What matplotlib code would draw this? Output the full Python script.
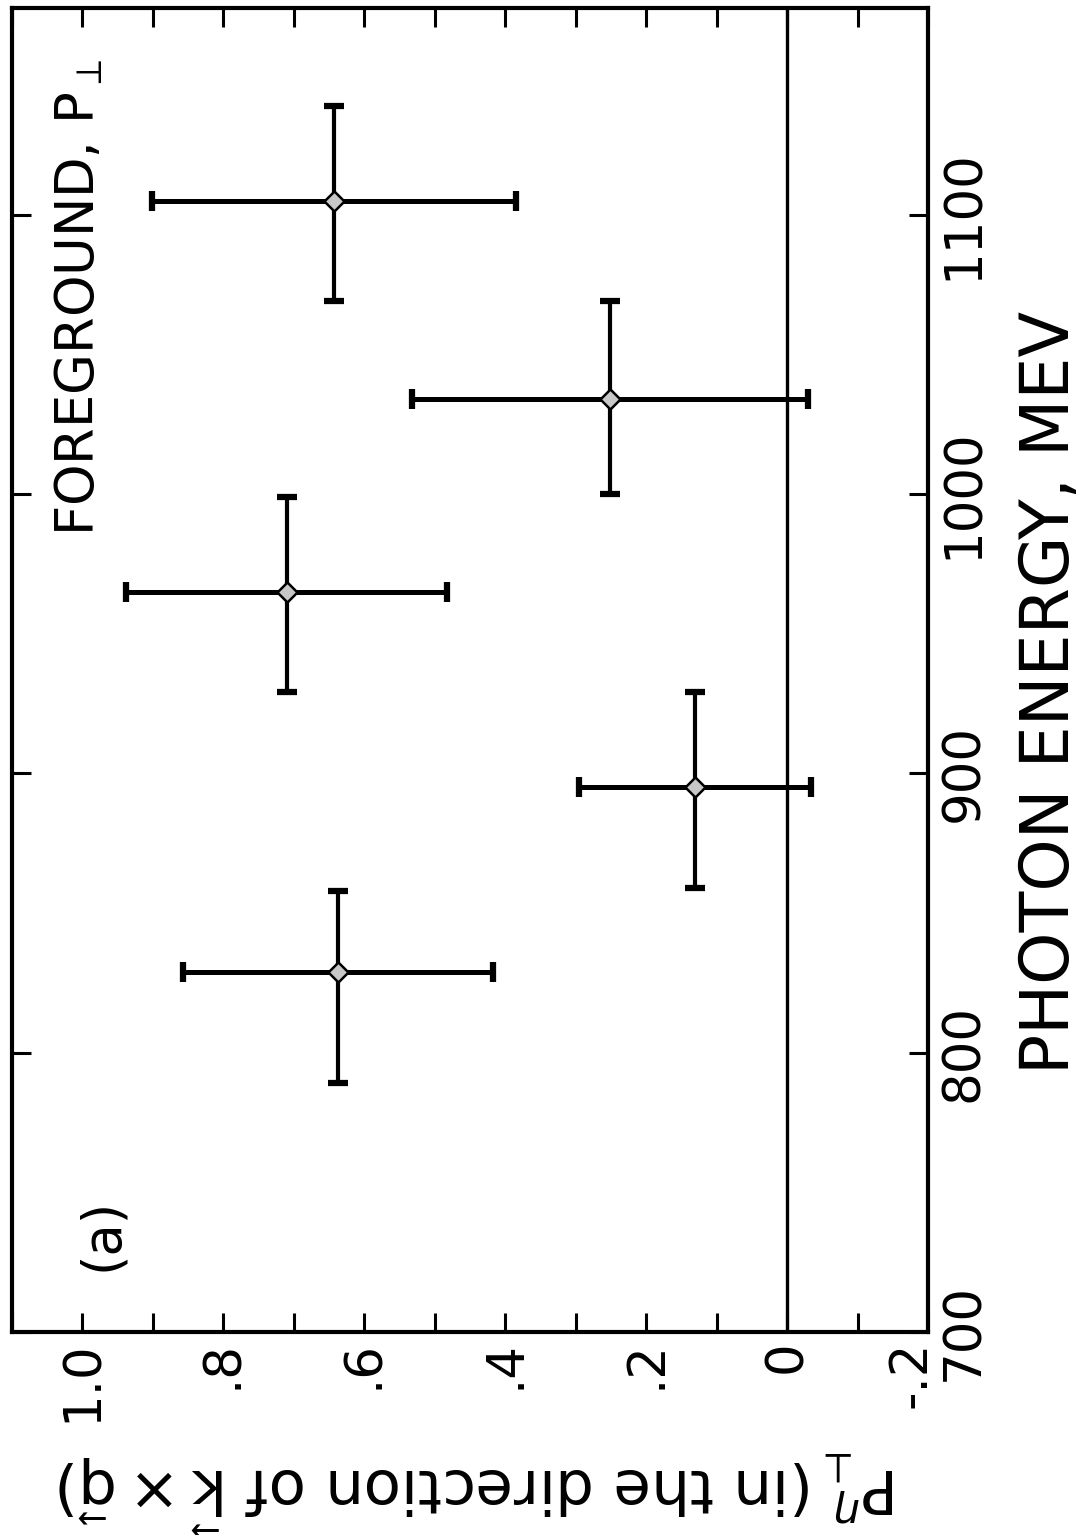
import matplotlib
matplotlib.use('Agg')
import matplotlib.pyplot as plt
from matplotlib.ticker import MultipleLocator
from matplotlib.transforms import ScaledTranslation

# data (a): foreground, P_perp
energy = [829, 895, 965, 1034, 1105]            # MeV
energy_err_lo = [40, 36, 36, 34, 36]
energy_err_hi = [29, 34, 34, 35, 34]
polarization = [0.637, 0.131, 0.710, 0.251, 0.643]
polarization_err = [0.220, 0.165, 0.228, 0.281, 0.258]

p_ticks = [1.0, 0.8, 0.6, 0.4, 0.2, 0.0, -0.2]
p_tick_labels = ['1.0', '.8', '.6', '.4', '.2', '0', '-.2']
e_ticks = [700, 800, 900, 1000, 1100]
e_tick_labels = ['700', '800', '900', '1000', '1100']

plt.rcParams['font.family'] = 'DejaVu Sans'
plt.rcParams['mathtext.fontset'] = 'dejavusans'

# the page is turned 90 degrees: energy runs up the page, P runs right-to-left
fig = plt.figure(figsize=(10.88, 15.35), dpi=100)
ax = fig.add_axes([0.011, 0.1322, 0.842, 0.8626])

ax.set_xlim(1.1, -0.2)
ax.set_ylim(700, 1174)

# zero line
ax.axvline(0.0, color='black', lw=2.4, zorder=1)

# P error bars (thicker) and energy bin bars
ax.errorbar(polarization, energy, xerr=polarization_err, fmt='none',
            ecolor='black', elinewidth=3.6, capsize=7, capthick=4.5, zorder=2)
ax.errorbar(polarization, energy, yerr=[energy_err_lo, energy_err_hi], fmt='none',
            ecolor='black', elinewidth=3.0, capsize=7, capthick=4.5, zorder=2)
ax.plot(polarization, energy, linestyle='none', marker='D', markersize=10,
        markerfacecolor='#c8c8c8', markeredgecolor='black', markeredgewidth=1.8, zorder=3)

# frame and ticks
for sp in ax.spines.values():
    sp.set_linewidth(3.0)

ax.set_xticks(p_ticks)
ax.set_xticklabels(p_tick_labels, rotation=90, fontsize=37)
ax.xaxis.set_minor_locator(MultipleLocator(0.1))
ax.set_yticks(e_ticks)
ax.set_yticklabels(e_tick_labels, rotation=90, fontsize=37, va='center')

ax.tick_params(which='both', direction='in', length=14, width=2.2,
               top=True, bottom=True, left=True, right=True)
ax.tick_params(axis='x', which='major', pad=6)
ax.tick_params(axis='y', which='major', labelleft=False, labelright=True, pad=8)

# nudge the last P label away from the "700"
last = ax.get_xticklabels()[-1]
last.set_transform(last.get_transform() + ScaledTranslation(-12 / 72, 0, fig.dpi_scale_trans))

# labels
ax.text(1.133, 0.483, 'PHOTON ENERGY, MEV', transform=ax.transAxes,
        rotation=90, ha='center', va='center', fontsize=48)
fig.text(0.44, 0.028,
         r'$\mathrm{P}_{\perp}^{\eta}$(in the direction of $\vec{\mathrm{k}}\times\vec{\mathrm{q}}$)',
         rotation=180, ha='center', va='center', fontsize=44)

ax.text(1.005, 985, r'FOREGROUND, P$_{\perp}$', rotation=90,
        ha='center', va='bottom', fontsize=38)
ax.text(0.972, 735, '(a)', rotation=90, ha='center', va='center', fontsize=38)

fig.savefig('out.png', dpi=100)
